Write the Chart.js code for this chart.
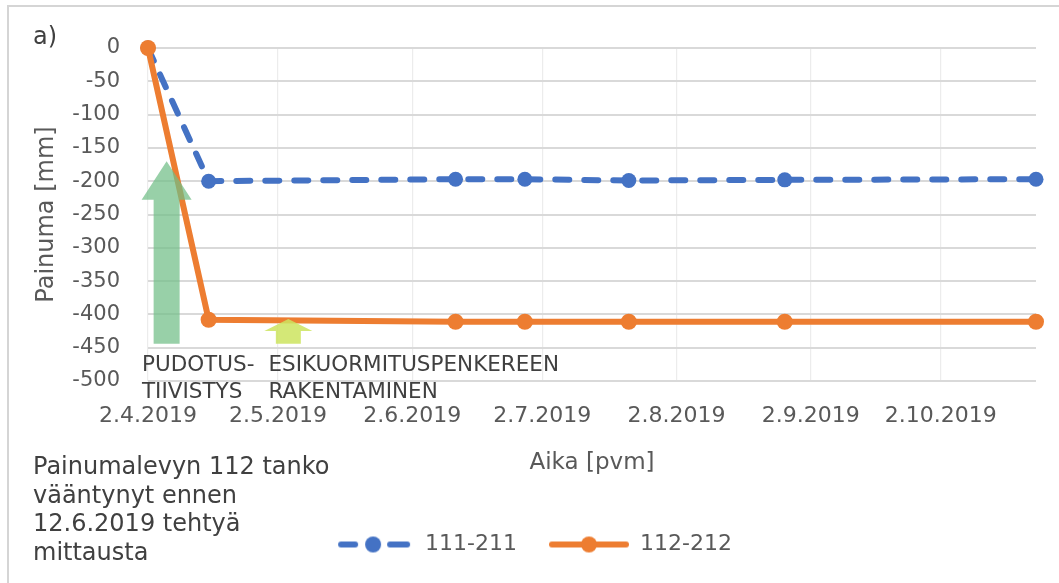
<!DOCTYPE html>
<html>
<head>
<meta charset="utf-8">
<script src="https://cdn.jsdelivr.net/npm/chart.js@4.4.1/dist/chart.umd.min.js"></script>
<style>
  html, body { margin: 0; padding: 0; background: #ffffff; }
  #wrap { position: relative; width: 1059px; height: 583px; }
</style>
</head>
<body>
<div id="wrap"><canvas id="painumaChart"></canvas></div>
<script>
// Painuma measurements, plates 111-211 and 112-212
const measureDates = ['2.4.2019', '16.4.2019', '12.6.2019', '28.6.2019', '22.7.2019', '27.8.2019', '24.10.2019'];
const series111 = [0, -200, -197, -197, -199, -198, -197];
const series112 = [0, -408, -411, -411, -411, -411, -411];
const seriesNames = ['111-211', '112-212'];
const tickLabels = ['2.4.2019', '2.5.2019', '2.6.2019', '2.7.2019', '2.8.2019', '2.9.2019', '2.10.2019'];
const noteLines = ['Painumalevyn 112 tanko', 'vääntynyt ennen', '12.6.2019 tehtyä', 'mittausta'];
const eventLabels = [['PUDOTUS-', 'TIIVISTYS'], ['ESIKUORMITUSPENKEREEN', 'RAKENTAMINEN']];

const FONT = 'DejaVu Sans';
const BLUE = '#4472c4';
const ORANGE = '#ed7d31';

function dayOf(s) {
    const p = s.split('.').map(Number);
    return Math.round((Date.UTC(p[2], p[1] - 1, p[0]) - Date.UTC(2019, 3, 2)) / 86400000);
}
const measureDays = measureDates.map(dayOf);
const tickDays = tickLabels.map(dayOf);

function legendIcon(color, dashed) {
    const c = document.createElement('canvas');
    c.width = 80; c.height = 18;
    const g = c.getContext('2d');
    g.strokeStyle = color; g.fillStyle = color;
    g.lineWidth = 6; g.lineCap = 'round';
    g.beginPath();
    if (dashed) {
        g.moveTo(7, 9); g.lineTo(21, 9);
        g.moveTo(56, 9); g.lineTo(73, 9);
    } else {
        g.moveTo(3, 9); g.lineTo(77, 9);
    }
    g.stroke();
    g.beginPath(); g.arc(dashed ? 39 : 40, 9, 8, 0, Math.PI * 2); g.fill();
    return c;
}

// arrows + event texts + note + frame
const extras = {
    id: 'extras',
    beforeDraw(chart) {
        const ctx = chart.ctx;
        ctx.save();
        ctx.strokeStyle = '#d5d5d5';
        ctx.lineWidth = 2;
        ctx.beginPath();
        ctx.moveTo(8, 583); ctx.lineTo(8, 6); ctx.lineTo(1059, 6);
        ctx.stroke();
        ctx.restore();
    },
    afterDatasetsDraw(chart) {
        const ctx = chart.ctx;
        const xs = chart.scales.x, ys = chart.scales.y;
        function arrow(day, tip, base, bottom, half, headHalf, color) {
            const cx = xs.getPixelForValue(day);
            const yt = ys.getPixelForValue(tip), yb = ys.getPixelForValue(base), yo = ys.getPixelForValue(bottom);
            ctx.fillStyle = color;
            ctx.beginPath();
            ctx.moveTo(cx, yt);
            ctx.lineTo(cx + headHalf, yb);
            ctx.lineTo(cx + half, yb);
            ctx.lineTo(cx + half, yo);
            ctx.lineTo(cx - half, yo);
            ctx.lineTo(cx - half, yb);
            ctx.lineTo(cx - headHalf, yb);
            ctx.closePath();
            ctx.fill();
        }
        ctx.save();
        arrow(4.3, -170, -228, -444, 13, 25, 'rgba(112,190,135,0.72)');
        arrow(32.4, -407, -425, -444, 12.5, 24, 'rgba(205,228,95,0.85)');

        ctx.fillStyle = '#404040';
        ctx.font = '21.5px "' + FONT + '"';
        ctx.textBaseline = 'middle';
        ctx.textAlign = 'left';
        const ex = [-1.4, 27.8];
        eventLabels.forEach(function(lines, i) {
            lines.forEach(function(t, j) {
                ctx.fillText(t, xs.getPixelForValue(ex[i]), ys.getPixelForValue(-476 - j * 41));
            });
        });
        ctx.restore();
    },
    afterDraw(chart) {
        const ctx = chart.ctx;
        ctx.save();
        ctx.fillStyle = '#404040';
        ctx.textBaseline = 'middle';
        ctx.textAlign = 'left';
        ctx.font = '24px "' + FONT + '"';
        ctx.fillText('a)', 33, 38);
        ctx.font = '24px "' + FONT + '"';
        noteLines.forEach(function(t, i) {
            ctx.fillText(t, 33, 468 + i * 28.5);
        });
        ctx.restore();
    }
};

const ctx = document.getElementById('painumaChart');
new Chart(ctx, {
    type: 'line',
    data: {
        datasets: [
            {
                label: seriesNames[0],
                data: measureDays.map((d, i) => ({ x: d, y: series111[i] })),
                borderColor: BLUE,
                backgroundColor: BLUE,
                borderWidth: 6,
                borderDash: [14, 15],
                borderCapStyle: 'round',
                pointRadius: 7.5,
                pointBorderWidth: 0,
                tension: 0,
                clip: false,
                order: 1
            },
            {
                label: seriesNames[1],
                data: measureDays.map((d, i) => ({ x: d, y: series112[i] })),
                borderColor: ORANGE,
                backgroundColor: ORANGE,
                borderWidth: 6,
                borderCapStyle: 'round',
                pointRadius: 8,
                pointBorderWidth: 0,
                tension: 0,
                clip: false,
                order: 0
            }
        ]
    },
    options: {
        responsive: true,
        maintainAspectRatio: false,
        animation: false,
        layout: { padding: { top: 48, right: 23, bottom: 17.5, left: 30 } },
        scales: {
            x: {
                type: 'linear',
                min: 0,
                max: measureDays[measureDays.length - 1],
                afterBuildTicks: function(scale) {
                    scale.ticks = tickDays.map(v => ({ value: v }));
                },
                afterFit: function(scale) { scale.height = 120.5; },
                ticks: {
                    autoSkip: false,
                    maxRotation: 0,
                    padding: 22,
                    color: '#595959',
                    font: { family: FONT, size: 22 },
                    callback: function(v, i) { return tickLabels[i]; }
                },
                grid: { color: '#ececec', lineWidth: 1.2, drawTicks: false },
                border: { display: false },
                title: {
                    display: true,
                    text: 'Aika [pvm]',
                    color: '#595959',
                    font: { family: FONT, size: 23 },
                    padding: { top: 0, bottom: 25 }
                }
            },
            y: {
                min: -500,
                max: 0,
                afterFit: function(scale) { scale.width = 118; },
                ticks: {
                    stepSize: 50,
                    padding: 28,
                    color: '#595959',
                    font: { family: FONT, size: 21 }
                },
                grid: { color: '#d9d9d9', lineWidth: 2, drawTicks: false },
                border: { display: false },
                title: {
                    display: true,
                    text: 'Painuma [mm]',
                    color: '#595959',
                    font: { family: FONT, size: 24 },
                    padding: { top: 2, bottom: 0 }
                }
            }
        },
        plugins: {
            legend: {
                position: 'bottom',
                labels: {
                    usePointStyle: true,
                    pointStyleWidth: 80,
                    padding: 32,
                    color: '#595959',
                    font: { family: FONT, size: 22 },
                    generateLabels: function(chart) {
                        return chart.data.datasets.map(function(ds, i) {
                            return {
                                text: ds.label,
                                pointStyle: legendIcon(ds.borderColor, i === 0),
                                fillStyle: ds.borderColor,
                                strokeStyle: ds.borderColor,
                                lineWidth: 0,
                                hidden: false,
                                datasetIndex: i,
                                fontColor: '#595959'
                            };
                        });
                    }
                }
            },
            tooltip: { enabled: false }
        }
    },
    plugins: [extras]
});
</script>
</body>
</html>
